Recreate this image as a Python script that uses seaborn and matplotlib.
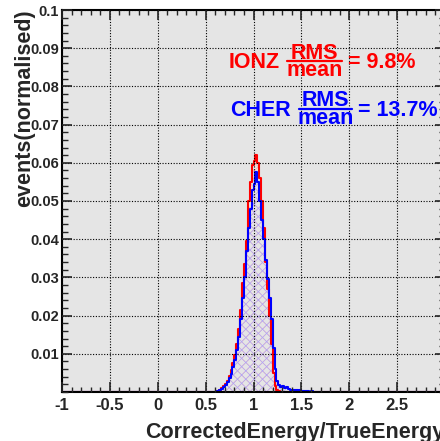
import numpy as np
import matplotlib
matplotlib.use("Agg")
import matplotlib.pyplot as plt
from matplotlib.lines import Line2D
from matplotlib.ticker import MultipleLocator
import seaborn as sns

# Histogram binning: 200 bins of width 0.02 over [-1, 3]
x_min, x_max, bin_width = -1.0, 3.0, 0.02

# Non-empty bins start at 0.60 (normalised event fractions per bin)
ionz_start = 0.60
ionz_values = [
    0.0000, 0.0003, 0.0006, 0.0010, 0.0015, 0.0022, 0.0030, 0.0042, 0.0058, 0.0075,
    0.0098, 0.0125, 0.0165, 0.0215, 0.0285, 0.0335, 0.0395, 0.0500, 0.0550, 0.0595,
    0.0605, 0.0620, 0.0600, 0.0560, 0.0500, 0.0430, 0.0340, 0.0270, 0.0200, 0.0125,
    0.0050, 0.0015, 0.0005, 0.0002,
]
cher_start = 0.60
cher_values = [
    0.0000, 0.0002, 0.0004, 0.0007, 0.0012, 0.0018, 0.0026, 0.0036, 0.0048, 0.0065,
    0.0085, 0.0110, 0.0145, 0.0190, 0.0245, 0.0300, 0.0370, 0.0430, 0.0480, 0.0530,
    0.0545, 0.0575, 0.0550, 0.0500, 0.0450, 0.0400, 0.0345, 0.0295, 0.0245, 0.0190,
    0.0115, 0.0060, 0.0030, 0.0018, 0.0012, 0.0015, 0.0010, 0.0012, 0.0008, 0.0006,
    0.0006, 0.0004, 0.0005, 0.0003, 0.0004, 0.0002, 0.0003, 0.0002, 0.0002, 0.0001,
    0.0002, 0.0001, 0.0001, 0.0001, 0.0000, 0.0001,
]

# Resolution annotations: name, fraction numerator/denominator, value
ionz_name, ionz_resolution = "IONZ", "= 9.8%"
cher_name, cher_resolution = "CHER", "= 13.7%"
frac_top, frac_bottom = "RMS", "mean"

x_ticks = [-1, -0.5, 0, 0.5, 1, 1.5, 2, 2.5, 3]
x_tick_labels = ["-1", "-0.5", "0", "0.5", "1", "1.5", "2", "2.5", "3"]
y_ticks = [0.01, 0.02, 0.03, 0.04, 0.05, 0.06, 0.07, 0.08, 0.09, 0.1]
y_tick_labels = ["0.01", "0.02", "0.03", "0.04", "0.05", "0.06", "0.07", "0.08", "0.09", "0.1"]

sns.set_style("white")
plt.rcParams["font.family"] = ["Liberation Sans", "DejaVu Sans"]
plt.rcParams["font.weight"] = "bold"
plt.rcParams["hatch.linewidth"] = 0.45

edges = np.round(np.arange(x_min, x_max + bin_width / 2, bin_width), 4)
centers = (edges[:-1] + edges[1:]) / 2
bin_list = edges.tolist()


def full_hist(start, values):
    counts = np.zeros(len(centers))
    i0 = int(round((start - x_min) / bin_width))
    counts[i0:i0 + len(values)] = values
    return counts


ionz = full_hist(ionz_start, ionz_values)
cher = full_hist(cher_start, cher_values)

W, H, DPI = 440, 441, 100
fig = plt.figure(figsize=(W / DPI, H / DPI), dpi=DPI)
fig.patch.set_facecolor("white")
ax = fig.add_axes([62 / W, (H - 392) / H, 383 / W, 382 / H])
ax.set_facecolor("#e5e5e5")

series = [
    (ionz, "red", "#ffa8a8"),
    (cher, "blue", "#a8a8ff"),
]
# hatched fills first, then the step outlines on top
for counts, line_c, hatch_c in series:
    sns.histplot(x=centers, weights=counts, bins=bin_list, element="step",
                 fill=True, stat="count", ax=ax, color=line_c)
    coll = ax.collections[-1]
    coll.set_facecolor("none")
    coll.set_edgecolor(hatch_c)
    coll.set_linewidth(0)
    coll.set_hatch("xxxx")
for counts, line_c, hatch_c in series:
    sns.histplot(x=centers, weights=counts, bins=bin_list, element="step",
                 fill=False, stat="count", ax=ax, color=line_c, linewidth=1.5)

ax.set_xlim(x_min, x_max)
ax.set_ylim(0, 0.1)
ax.set_xlabel("")
ax.set_ylabel("")

ax.set_xticks(x_ticks)
ax.set_xticklabels(x_tick_labels, fontsize=12, fontweight="bold")
ax.set_yticks(y_ticks)
ax.set_yticklabels(y_tick_labels, fontsize=10.5, fontweight="bold")
ax.xaxis.set_minor_locator(MultipleLocator(0.1))
ax.yaxis.set_minor_locator(MultipleLocator(0.002))
ax.tick_params(axis="x", which="major", direction="in", length=7, width=1.2,
               top=True, bottom=True, pad=4)
ax.tick_params(axis="x", which="minor", direction="in", length=3.5, width=1.0,
               top=True, bottom=True)
ax.tick_params(axis="y", which="major", direction="in", length=7, width=1.2,
               left=True, right=True, pad=2)
ax.tick_params(axis="y", which="minor", direction="in", length=4.5, width=1.0,
               left=True, right=True)

ax.grid(True, which="major", color="black", linestyle=(0, (1, 1.5)), linewidth=0.8)
ax.set_axisbelow(False)
for sp in ax.spines.values():
    sp.set_visible(True)
    sp.set_color("black")
    sp.set_linewidth(1.5)


def px(x, y):
    """Pixel position (from top-left) to figure fraction."""
    return x / W, (H - y) / H


def resolution_label(name, value, color, x_name, x_frac0, x_frac1, x_value, y_mid):
    fs = 15.5
    fig.text(*px(x_name, y_mid + 7.5), name, color=color, fontsize=fs,
             fontweight="bold", ha="left", va="baseline")
    xc = (x_frac0 + x_frac1) / 2
    fig.text(*px(xc, y_mid - 1.5), frac_top, color=color, fontsize=fs,
             fontweight="bold", ha="center", va="baseline")
    fig.text(*px(xc, y_mid + 15.5), frac_bottom, color=color, fontsize=fs,
             fontweight="bold", ha="center", va="baseline")
    x0, y0 = px(x_frac0, y_mid + 0.5)
    x1, _ = px(x_frac1, y_mid + 0.5)
    fig.add_artist(Line2D([x0, x1], [y0, y0], color=color, linewidth=1.6,
                          transform=fig.transFigure))
    fig.text(*px(x_value, y_mid + 7.5), value, color=color, fontsize=fs,
             fontweight="bold", ha="left", va="baseline")


resolution_label(ionz_name, ionz_resolution, "red", 229, 287, 342, 348, 60.5)
resolution_label(cher_name, cher_resolution, "blue", 230, 299, 352, 358, 108)

fig.text(24.5 / W, (H - 9) / H, "events(normalised)", rotation=90, ha="center",
         va="top", fontsize=15.5, fontweight="bold")
fig.text(145 / W, 3 / H, "CorrectedEnergy/TrueEnergy", ha="left",
         va="baseline", fontsize=15.5, fontweight="bold")

fig.savefig("out.png", dpi=DPI, facecolor="white")
